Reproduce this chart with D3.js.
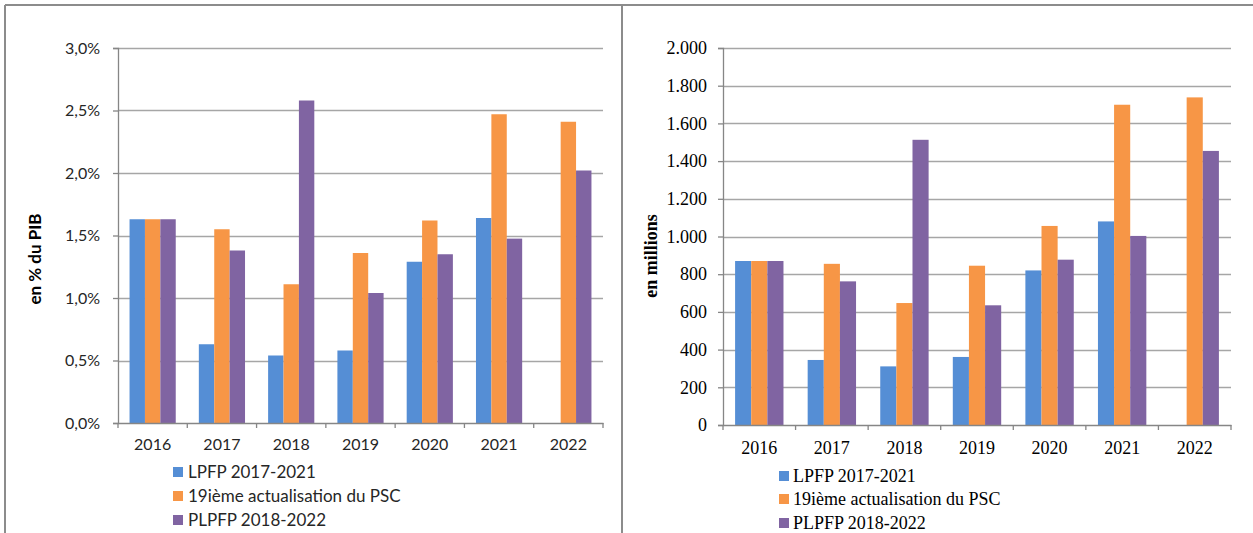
<!DOCTYPE html>
<html>
<head>
<meta charset="utf-8">
<script src="https://cdn.jsdelivr.net/npm/d3@7"></script>
<style>
  body { margin: 0; background: #fff; }
  svg { display: block; }
</style>
</head>
<body>
<svg width="1253" height="533"></svg>
<script>
// categories and series
var years = ["2016", "2017", "2018", "2019", "2020", "2021", "2022"];
var seriesNames = ["LPFP 2017-2021", "19ième actualisation du PSC", "PLPFP 2018-2022"];
var seriesColors = ["#558ed5", "#f79646", "#8064a2"];

// left chart: en % du PIB
var pibLPFP   = [1.63, 0.63, 0.54, 0.58, 1.29, 1.64, null];
var pibPSC    = [1.63, 1.55, 1.11, 1.36, 1.62, 2.47, 2.41];
var pibPLPFP  = [1.63, 1.38, 2.58, 1.04, 1.35, 1.475, 2.02];
var pibTicks  = [0, 0.5, 1.0, 1.5, 2.0, 2.5, 3.0];

// right chart: en millions
var mioLPFP   = [870, 345, 311, 361, 820, 1080, null];
var mioPSC    = [870, 855, 647, 845, 1056, 1699, 1738];
var mioPLPFP  = [870, 762, 1513, 635, 877, 1003, 1454];
var mioTicks  = [0, 200, 400, 600, 800, 1000, 1200, 1400, 1600, 1800, 2000];

var fr = d3.formatLocale({decimal: ",", thousands: ".", grouping: [3], currency: ["", " €"]});

var svg = d3.select("svg");

// panel frames
svg.append("line").attr("x1", 5).attr("x2", 1253).attr("y1", 5).attr("y2", 5)
  .attr("stroke", "#8c8c8c").attr("stroke-width", 2);
svg.append("line").attr("x1", 5).attr("x2", 5).attr("y1", 5).attr("y2", 533)
  .attr("stroke", "#8c8c8c").attr("stroke-width", 2);
svg.append("line").attr("x1", 622).attr("x2", 622).attr("y1", 5).attr("y2", 533)
  .attr("stroke", "#8c8c8c").attr("stroke-width", 2);

function drawPanel(cfg) {
  var g = svg.append("g");

  var x0 = d3.scaleBand().domain(years).range([cfg.left, cfg.right]);
  var cw = x0.bandwidth();
  var x1 = d3.scaleBand().domain(d3.range(3)).range([cw / 6, cw - cw / 6]);
  var y = d3.scaleLinear().domain([0, cfg.max]).range([cfg.bottom, cfg.top]);

  // gridlines
  g.append("g").selectAll("line").data(cfg.ticks.slice(1)).enter().append("line")
    .attr("x1", cfg.left).attr("x2", cfg.right)
    .attr("y1", function(d) { return Math.round(y(d)) + 0.5; })
    .attr("y2", function(d) { return Math.round(y(d)) + 0.5; })
    .attr("stroke", "#a6a6a6").attr("stroke-width", 1.3);

  // bars
  var rows = years.map(function(yr, i) {
    return {year: yr, vals: [cfg.data[0][i], cfg.data[1][i], cfg.data[2][i]]};
  });
  var grp = g.append("g").selectAll("g").data(rows).enter().append("g")
    .attr("transform", function(d) { return "translate(" + x0(d.year) + ",0)"; });
  grp.selectAll("rect")
    .data(function(d) { return d.vals.map(function(v, k) { return {k: k, v: v}; })
      .filter(function(e) { return e.v != null; }); })
    .enter().append("rect")
    .attr("x", function(d) { return x1(d.k); })
    .attr("width", x1.bandwidth())
    .attr("y", function(d) { return y(d.v); })
    .attr("height", function(d) { return cfg.bottom - y(d.v); })
    .attr("fill", function(d) { return seriesColors[d.k]; });

  // y axis
  var yAxis = d3.axisLeft(y).tickValues(cfg.ticks).tickSize(5).tickPadding(cfg.tickPad)
    .tickFormat(cfg.fmt);
  var ya = g.append("g").attr("transform", "translate(" + cfg.left + ",0)").call(yAxis);
  ya.select(".domain").attr("stroke", "#868686").attr("stroke-width", 1.3);
  ya.selectAll(".tick line").attr("stroke", "#868686").attr("stroke-width", 1.3);
  ya.selectAll("text").attr("font-family", cfg.font).attr("font-size", cfg.fontSize)
    .attr("fill", cfg.textColor);

  // x axis
  var xAxis = d3.axisBottom(x0).tickSize(0).tickPadding(cfg.xPad);
  var xa = g.append("g").attr("transform", "translate(0," + cfg.bottom + ")").call(xAxis);
  xa.select(".domain").attr("stroke", "#868686").attr("stroke-width", 1.3);
  xa.selectAll("text").attr("font-family", cfg.font).attr("font-size", cfg.fontSize)
    .attr("fill", cfg.textColor);
  // tick marks between categories
  xa.append("g").selectAll("line").data(d3.range(years.length + 1)).enter().append("line")
    .attr("x1", function(i) { return cfg.left + i * cw; })
    .attr("x2", function(i) { return cfg.left + i * cw; })
    .attr("y1", 0).attr("y2", 5)
    .attr("stroke", "#868686").attr("stroke-width", 1.3);

  // y title
  g.append("text")
    .attr("transform", "translate(" + cfg.titleX + "," + cfg.titleY + ") rotate(-90)")
    .attr("text-anchor", "middle")
    .attr("font-family", cfg.font).attr("font-weight", "bold")
    .attr("font-size", cfg.titleSize).attr("fill", "#000")
    .text(cfg.title);

  // legend
  var lg = g.append("g").selectAll("g").data(seriesNames).enter().append("g")
    .attr("transform", function(d, i) { return "translate(" + cfg.legX + "," + cfg.legY[i] + ")"; });
  lg.append("rect").attr("x", 0).attr("y", -5).attr("width", 10).attr("height", 10)
    .attr("fill", function(d, i) { return seriesColors[i]; });
  lg.append("text").attr("x", cfg.legTextDx).attr("y", 0).attr("dy", "0.35em")
    .attr("font-family", cfg.font).attr("font-size", cfg.legSize).attr("fill", cfg.textColor)
    .text(function(d) { return d; });
}

drawPanel({
  data: [pibLPFP, pibPSC, pibPLPFP],
  ticks: pibTicks, max: 3.0,
  fmt: function(d) { return fr.format(".1f")(d) + "%"; },
  left: 118, right: 603, top: 48, bottom: 423,
  font: "Lato, 'Liberation Sans', sans-serif", fontSize: 16, legSize: 17, textColor: "#262626",
  tickPad: 13, xPad: 16,
  title: "en % du PIB", titleX: 41, titleY: 259, titleSize: 17,
  legX: 173, legY: [472, 496, 520], legTextDx: 15
});

drawPanel({
  data: [mioLPFP, mioPSC, mioPLPFP],
  ticks: mioTicks, max: 2000,
  fmt: function(d) { return fr.format(",")(d); },
  left: 723, right: 1231, top: 48, bottom: 425,
  font: "'Liberation Serif', 'Times New Roman', serif", fontSize: 18, legSize: 18, textColor: "#000",
  tickPad: 11, xPad: 16,
  title: "en millions", titleX: 657, titleY: 256, titleSize: 18,
  legX: 779, legY: [476, 499, 523], legTextDx: 14
});
</script>
</body>
</html>
